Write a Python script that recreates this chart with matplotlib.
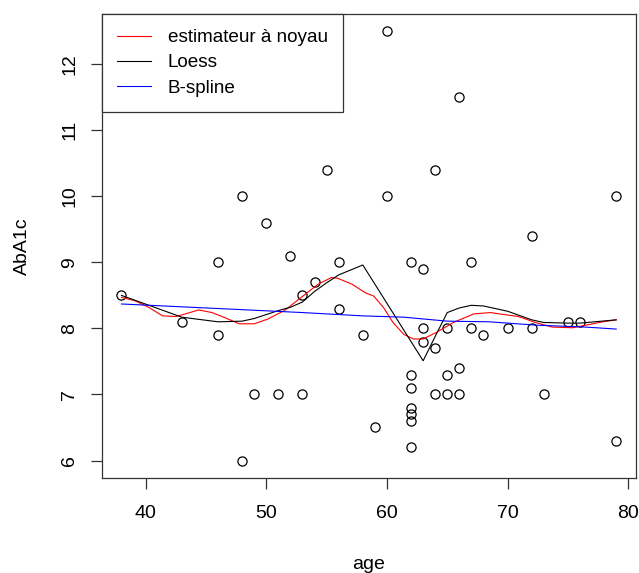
import matplotlib
matplotlib.use("Agg")
import matplotlib.pyplot as plt

plt.rcParams['font.family'] = ['Liberation Sans', 'DejaVu Sans']

# Observations
age = [38, 43, 46, 46, 48, 48, 49, 50, 51, 52, 53, 53, 54, 55, 56, 56, 58, 59,
       60, 60, 62, 62, 62, 62, 62, 62, 62, 63, 63, 63, 64, 64, 64, 65, 65, 65,
       66, 66, 66, 67, 67, 68, 70, 72, 72, 73, 75, 76, 79, 79]
aba1c = [8.5, 8.1, 9.0, 7.9, 10.0, 6.0, 7.0, 9.6, 7.0, 9.1, 8.5, 7.0, 8.7, 10.4,
         9.0, 8.3, 7.9, 6.5, 12.5, 10.0, 9.0, 7.3, 7.1, 6.8, 6.7, 6.6, 6.2, 8.9,
         8.0, 7.8, 10.4, 7.7, 7.0, 8.0, 7.3, 7.0, 11.5, 7.4, 7.0, 9.0, 8.0, 7.9,
         8.0, 9.4, 8.0, 7.0, 8.1, 8.1, 10.0, 6.3]

# Kernel estimator curve
kern_x = [38, 39.1, 40.25, 41.4, 42.5, 43.3, 44.4, 45.5, 46.6, 47.75, 49, 50.1,
          51.5, 52.9, 54.3, 55.4, 55.9, 57.1, 58.2, 58.9, 59.7, 60.5, 61.4,
          62.2, 63.0, 64.1, 65.5, 67.2, 68.6, 69.3, 70.9, 72.3, 73.7, 75.4,
          76.5, 77.9, 79]
kern_y = [8.47, 8.42, 8.32, 8.19, 8.18, 8.22, 8.28, 8.24, 8.16, 8.07, 8.07, 8.14,
          8.27, 8.47, 8.67, 8.77, 8.76, 8.67, 8.54, 8.49, 8.32, 8.09, 7.91,
          7.84, 7.84, 7.94, 8.09, 8.22, 8.24, 8.22, 8.18, 8.09, 8.02, 8.01,
          8.05, 8.10, 8.13]

# Loess fit at the distinct ages
loess_x = [38, 43, 46, 48, 49, 50, 51, 52, 53, 54, 55, 56, 58, 59, 60, 62, 63,
           64, 65, 66, 67, 68, 70, 72, 73, 75, 76, 79]
loess_y = [8.50, 8.17, 8.10, 8.11, 8.15, 8.21, 8.27, 8.32, 8.40, 8.56, 8.69,
           8.81, 8.96, 8.67, 8.38, 7.80, 7.51, 7.88, 8.24, 8.31, 8.35, 8.34,
           8.26, 8.13, 8.09, 8.08, 8.08, 8.13]

# B-spline fit
bspl_x = [38, 47.3, 53, 58, 61.4, 65, 68.5, 72.3, 76.5, 79]
bspl_y = [8.37, 8.29, 8.24, 8.19, 8.17, 8.11, 8.10, 8.05, 8.02, 7.99]

legend_labels = ["estimateur à noyau", "Loess", "B-spline"]

W, H = 639, 573
fig = plt.figure(figsize=(W / 100, H / 100), dpi=100)
left, right, top, bottom = 101.7, 636, 14, 477.7
ax = fig.add_axes([left / W, 1 - bottom / H, (right - left) / W, (bottom - top) / H])

ax.plot(age, aba1c, linestyle='none', marker='o', markersize=6.6,
        markerfacecolor='none', markeredgecolor='black', markeredgewidth=0.9)
l1, = ax.plot(kern_x, kern_y, color='#FF0000', lw=0.8)
l2, = ax.plot(loess_x, loess_y, color='black', lw=0.8)
l3, = ax.plot(bspl_x, bspl_y, color='#0000FF', lw=0.8)

ax.set_xlim(36.36, 80.64)
ax.set_ylim(5.74, 12.76)
ax.set_xticks([40, 50, 60, 70, 80])
ax.set_yticks([6, 7, 8, 9, 10, 11, 12])
ax.tick_params(axis='both', length=8, width=0.9, labelsize=14, color='#333333')
ax.tick_params(axis='x', pad=12)
ax.tick_params(axis='y', pad=9)
for lab in ax.get_yticklabels():
    lab.set_rotation(90)
    lab.set_va('center')
for s in ax.spines.values():
    s.set_linewidth(0.9)
    s.set_color('#333333')

ax.set_xlabel("age", fontsize=14, labelpad=24)
ax.set_ylabel("AbA1c", fontsize=14, labelpad=22)

leg = ax.legend([l1, l2, l3], legend_labels, loc='upper left', fontsize=13.6,
                borderaxespad=0, fancybox=False, framealpha=1,
                edgecolor='#333333', handlelength=1.8, handletextpad=0.9,
                labelspacing=0.42, borderpad=0.8)
leg.get_frame().set_linewidth(0.9)

fig.savefig("out.png", dpi=100)
